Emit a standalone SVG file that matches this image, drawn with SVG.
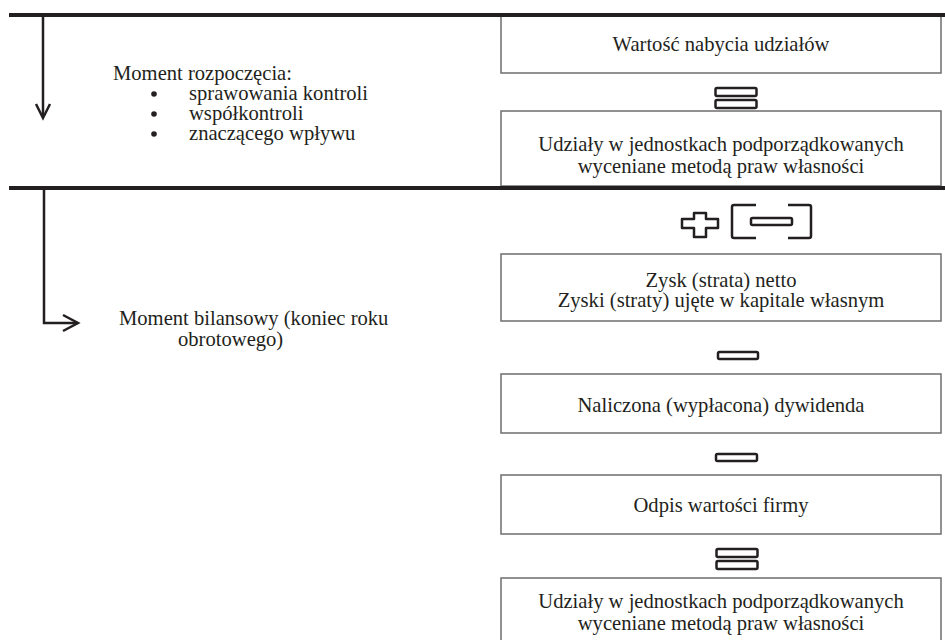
<svg xmlns="http://www.w3.org/2000/svg" width="945" height="640" viewBox="0 0 945 640">
<style>
  .t { font-family: "Liberation Serif", "DejaVu Serif", serif; font-size: 20.6px; fill: #231f20; }
  .c { text-anchor: middle; }
  .box { fill: #ffffff; stroke: #6e6e6e; stroke-width: 1.5; }
  .sym { fill: none; stroke: #231f20; stroke-width: 2.5; stroke-linejoin: round; }
  .rule { stroke: #231f20; stroke-width: 4; }
  .arr { fill: none; stroke: #231f20; stroke-width: 2.5; stroke-linejoin: miter; }
  .dot { fill: #231f20; }
</style>
<rect width="945" height="640" fill="#ffffff"/>

<g id="box1"><rect class="box" x="501" y="16" width="440" height="57"/>
  <text class="t c" x="721" y="51">Wartość nabycia udziałów</text></g>
<g id="box2"><rect class="box" x="501" y="111" width="440" height="75"/>
  <text class="t c" x="721" y="151">Udziały w jednostkach podporządkowanych</text>
  <text class="t c" x="721" y="173">wyceniane metodą praw własności</text></g>
<g id="box3"><rect class="box" x="501" y="254" width="440" height="67"/>
  <text class="t c" x="721" y="287">Zysk (strata) netto</text>
  <text class="t c" x="721" y="307">Zyski (straty) ujęte w kapitale własnym</text></g>
<g id="box4"><rect class="box" x="501" y="374" width="440" height="59"/>
  <text class="t c" x="721" y="412">Naliczona (wypłacona) dywidenda</text></g>
<g id="box5"><rect class="box" x="501" y="475" width="440" height="59"/>
  <text class="t c" x="721" y="512">Odpis wartości firmy</text></g>
<g id="box6"><rect class="box" x="501" y="578" width="440" height="70"/>
  <text class="t c" x="721" y="608">Udziały w jednostkach podporządkowanych</text>
  <text class="t c" x="721" y="630">wyceniane metodą praw własności</text></g>

<g id="rules">
  <line class="rule" x1="9" y1="15" x2="945" y2="15"/>
  <line class="rule" x1="9" y1="188" x2="945" y2="188"/>
</g>

<g id="label-start">
  <text class="t" x="113" y="80">Moment rozpoczęcia:</text>
  <circle class="dot" cx="154" cy="94" r="2.8"/><text class="t" x="189" y="100">sprawowania kontroli</text>
  <circle class="dot" cx="154" cy="114" r="2.8"/><text class="t" x="189" y="120">współkontroli</text>
  <circle class="dot" cx="154" cy="134" r="2.8"/><text class="t" x="189" y="140">znaczącego wpływu</text>
</g>
<g id="label-balance">
  <text class="t" x="119" y="325">Moment bilansowy (koniec roku</text>
  <text class="t" x="178" y="346">obrotowego)</text>
</g>

<g id="operators">
  <g id="eq1"><rect class="sym" x="715.5" y="88" width="41" height="8" rx="1.5"/><rect class="sym" x="715.5" y="100" width="41" height="8" rx="1.5"/></g>
  <g id="plusminus">
    <path class="sym" d="M694,213 H706 V219 H718 V228 H706 V237 H694 V228 H682 V219 H694 Z"/>
    <path class="sym" d="M756,205 H734 Q732,205 732,207 V236 Q732,238 734,238 H756"/>
    <rect class="sym" x="751" y="218" width="41" height="7" rx="1.5"/>
    <path class="sym" d="M788,205 H809 Q811,205 811,207 V236 Q811,238 809,238 H788"/>
  </g>
  <g id="minus1"><rect class="sym" x="718" y="352" width="40" height="7" rx="1.5"/></g>
  <g id="minus2"><rect class="sym" x="716" y="454" width="41" height="7" rx="1.5"/></g>
  <g id="eq2"><rect class="sym" x="716.5" y="549" width="41" height="8" rx="1.5"/><rect class="sym" x="716.5" y="561" width="41" height="8" rx="1.5"/></g>
</g>

<g id="connectors">
  <line class="arr" x1="43" y1="17" x2="43" y2="117"/>
  <polyline class="arr" points="36,104 43,118 50,104"/>
  <path class="arr" d="M44,190 V323 H78"/>
  <polyline class="arr" points="63,315 78,323 63,331"/>
</g>
</svg>
